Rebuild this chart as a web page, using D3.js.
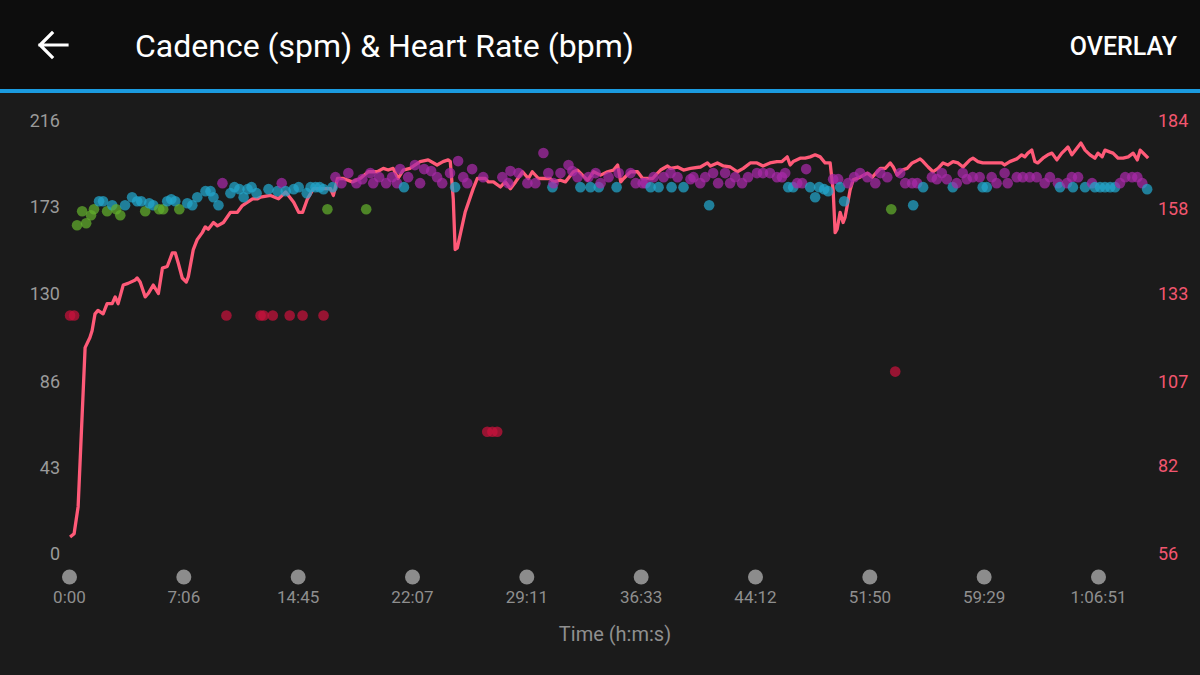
<!DOCTYPE html>
<html>
<head>
<meta charset="utf-8">
<script src="https://cdn.jsdelivr.net/npm/d3@7"></script>
<style>
  body { margin: 0; background: #1b1b1b; font-family: Roboto, "Noto Sans", sans-serif; }
</style>
</head>
<body>
<div id="chart"></div>
<script>
// elapsed seconds where the x-axis ticks sit, and their labels
let tickSeconds = [0, 426, 885, 1327, 1751, 2193, 2652, 3110, 3569, 4011];
let tickLabels = ["0:00", "7:06", "14:45", "22:07", "29:11", "36:33", "44:12", "51:50", "59:29", "1:06:51"];

let cadTicks = [0, 43, 86, 130, 173, 216];
let hrTicks = [56, 82, 107, 133, 158, 184];

// heart rate: [seconds, bpm]
let heartRate = [[4,61],[19,62],[34,70],[60,117],[78,120],[86,122],[97,127],[108,128],[127,127],[142,130],
  [161,130],[172,132],[183,130],[202,135.5],[220,136],[247,137],[254,137.6],[265,136.4],[284,132],[295,133],
  [314,135.5],[333,133],[348,140.5],[366,141],[385,145],[396,145],[407,142],[422,137.6],[438,136.4],[446,138],
  [466,146],[482,149],[502,151],[514,152.7],[526,152],[547,154],[563,153],[587,154],[615,157],[643,157],
  [663,159],[684,160],[704,161],[724,161],[736,161.5],[776,162],[808,161],[837,163],[869,160],[889,157],
  [904,157],[923,161],[946,164],[973,164],[992,164],[1012,164],[1023,162],[1039,167],[1062,167],[1096,166],
  [1127,167],[1158,169],[1193,169],[1216,170],[1235,169.5],[1254,170],[1273,167],[1293,169.5],[1319,170],[1357,172],
  [1387,172.5],[1420,171],[1442,172],[1461,172.5],[1469,172],[1480,161],[1487,146],[1495,146.5],[1524,157],[1554,164],
  [1569,167],[1588,167],[1599,167],[1610,166],[1629,166],[1655,164.5],[1673,166],[1692,164],[1711,166],[1737,169],
  [1759,167],[1774,169],[1798,167],[1825,167],[1844,167],[1856,166],[1883,166.5],[1902,166],[1933,169],[1949,169.5],
  [1968,168],[1988,166.5],[2011,169],[2038,168],[2065,169],[2088,169.5],[2104,171],[2116,166],[2127,167],[2154,169],
  [2181,169],[2201,167],[2221,167],[2241,167],[2253,168],[2273,169.5],[2301,170.7],[2313,170],[2341,170.4],[2365,169.5],
  [2393,170],[2433,170.4],[2461,171.6],[2473,170.7],[2501,171.6],[2525,170.7],[2553,170.4],[2581,169],[2605,170],[2633,171.6],
  [2660,171.6],[2684,170.7],[2712,171.6],[2740,172],[2760,172],[2781,173.4],[2793,171],[2805,172],[2833,173],[2853,173],
  [2873,173.4],[2893,174],[2913,173.4],[2933,171.6],[2953,171.6],[2965,163.6],[2973,151],[2981,152],[2993,157],[3005,154],
  [3013,155.6],[3033,163.6],[3045,166.6],[3073,167.4],[3102,168.6],[3122,167.4],[3142,169],[3154,170],[3174,170],[3194,171.6],
  [3206,170.4],[3222,168],[3242,169.5],[3262,170],[3282,171.6],[3294,172],[3314,172.8],[3326,172],[3346,170.4],[3366,169],
  [3386,170],[3406,171.6],[3426,171],[3446,172],[3466,171.6],[3486,170.4],[3514,172.5],[3526,173],[3546,172],[3565,171.6],
  [3592,171.6],[3619,171.6],[3639,171.6],[3650,171],[3670,172],[3697,172.8],[3716,174],[3728,173.4],[3740,174.5],[3755,175.4],
  [3767,172],[3778,171.6],[3798,173],[3817,174],[3833,174.5],[3852,172.5],[3871,174.5],[3883,175.4],[3895,176.3],[3910,174],
  [3930,176],[3945,177.5],[3961,175.4],[3980,174],[3999,173],[4011,174.5],[4027,173.4],[4038,175.4],[4058,174.8],[4069,174.5],
  [4089,173],[4108,173],[4128,173.4],[4147,174.5],[4163,172.5],[4174,175.4],[4186,174.5],[4205,173]];

// cadence: [seconds, spm]
let cadence = [[4,119],[19,119],[30,164],[49,171],[64,165],[82,169],[93,172],[112,176],[127,176],[142,171],
  [161,174],[176,172],[191,169],[209,174],[235,178],[254,176],[269,176],[284,171],[299,175],[314,174],
  [336,172],[351,172],[366,176],[381,177],[396,176],[411,172],[442,175],[462,174],[482,178],[515,181],
  [535,181],[547,178],[567,174],[583,185],[599,119],[615,180],[631,183],[651,182],[668,178],[684,182],
  [700,183],[720,180],[736,119],[748,119],[768,182],[785,119],[804,181],[821,185],[837,181],[853,119],
  [869,182],[889,183],[904,119],[920,180],[935,183],[954,183],[970,183],[985,119],[985,182],[1000,172],
  [1020,183],[1031,188],[1054,185],[1081,190],[1112,185],[1135,187],[1150,172],[1166,190],[1177,185],[1200,188],
  [1227,185],[1250,188],[1269,185],[1281,192],[1296,183],[1312,188],[1338,194],[1357,185],[1372,192],[1398,191],
  [1420,188],[1439,185],[1468,190],[1487,183],[1498,196],[1517,188],[1532,185],[1550,192],[1591,188],[1606,61],
  [1625,61],[1643,61],[1662,188],[1684,185],[1692,191],[1722,190],[1755,185],[1786,185],[1817,200],[1836,190],
  [1852,183],[1856,185],[1883,190],[1914,194],[1929,191],[1949,188],[1960,183],[1991,188],[1999,183],[2019,190],
  [2031,183],[2038,185],[2069,188],[2100,183],[2108,190],[2154,190],[2174,185],[2201,185],[2213,185],[2233,183],
  [2245,188],[2265,183],[2285,188],[2313,190],[2317,183],[2341,188],[2365,183],[2393,187],[2405,188],[2432,185],
  [2452,188],[2468,174],[2484,190],[2504,185],[2532,190],[2552,185],[2572,188],[2600,185],[2624,188],[2660,190],
  [2684,190],[2712,190],[2740,188],[2760,188],[2773,190],[2785,183],[2805,183],[2821,185],[2841,185],[2857,192],
  [2873,183],[2893,178],[2909,183],[2929,182],[2945,181],[2965,187],[2985,187],[2993,183],[3009,176],[3025,185],
  [3049,188],[3073,190],[3102,188],[3134,185],[3154,190],[3182,188],[3198,172],[3214,91],[3234,190],[3254,185],
  [3282,185],[3286,174],[3302,185],[3326,183],[3361,188],[3381,187],[3401,190],[3421,187],[3445,183],[3461,185],
  [3485,190],[3501,187],[3525,188],[3553,188],[3565,183],[3581,183],[3600,188],[3619,185],[3650,190],[3662,185],
  [3697,188],[3720,188],[3747,188],[3774,188],[3805,185],[3825,188],[3856,185],[3864,183],[3891,185],[3910,188],
  [3914,183],[3934,188],[3961,183],[3988,185],[3999,183],[4019,183],[4038,183],[4058,183],[4077,183],[4096,185],
  [4116,188],[4143,188],[4163,188],[4182,185],[4201,182]];

// cadence zone limits and their colours
let zoneLimits = [153, 164, 174, 184];
let zoneColors = ["#c8123c", "#e0861e", "#62ae2c", "#22a6cc", "#a82aa8"];

let svgWidth = 1200;
let svgHeight = 675;

let plot = { left: 69, right: 1098, top: 121, bottom: 554 };

let svg = d3.select("#chart")
  .append("svg")
  .attr("width", svgWidth)
  .attr("height", svgHeight);

// background + app bar
svg.append("rect").attr("width", svgWidth).attr("height", svgHeight).attr("fill", "#1b1b1b");
svg.append("rect").attr("width", svgWidth).attr("height", 89).attr("fill", "#0d0d0d");
svg.append("rect").attr("y", 89).attr("width", svgWidth).attr("height", 4).attr("fill", "#1b9be0");

svg.append("path")
  .attr("d", "M40,45 L67,45 M52,33 L40,45 L52,57")
  .attr("fill", "none")
  .attr("stroke", "#fff")
  .attr("stroke-width", 3.2)
  .attr("stroke-linecap", "square");

svg.append("text")
  .attr("x", 135).attr("y", 46)
  .attr("dominant-baseline", "central")
  .attr("fill", "#fff")
  .style("font-size", "32px")
  .text("Cadence (spm) & Heart Rate (bpm)");

svg.append("text")
  .attr("x", 1177).attr("y", 46)
  .attr("dominant-baseline", "central")
  .attr("text-anchor", "end")
  .attr("fill", "#fff")
  .style("font-size", "25px")
  .style("font-weight", 500)
  .text("OVERLAY");

// scales
let tickStep = (plot.right - plot.left) / (tickSeconds.length - 1);
let xScale = d3.scaleLinear()
  .domain(tickSeconds)
  .range(tickSeconds.map((d, i) => plot.left + i * tickStep));

let cadScale = d3.scaleLinear().domain([0, 216]).range([plot.bottom, plot.top]);
let hrScale = d3.scaleLinear().domain([56, 184]).range([plot.bottom, plot.top]);
let zoneColor = d3.scaleThreshold().domain(zoneLimits).range(zoneColors);

// left axis (cadence)
let leftAxis = svg.append("g")
  .attr("transform", "translate(60,0)")
  .call(d3.axisLeft(cadScale).tickValues(cadTicks).tickSize(0).tickPadding(0));
leftAxis.select(".domain").remove();
leftAxis.selectAll("text")
  .attr("fill", "#9a9a9a")
  .style("font-size", "18px")
  .style("font-family", "Roboto");

// right axis (heart rate)
let rightAxis = svg.append("g")
  .attr("transform", "translate(1158,0)")
  .call(d3.axisRight(hrScale).tickValues(hrTicks).tickSize(0).tickPadding(0));
rightAxis.select(".domain").remove();
rightAxis.selectAll("text")
  .attr("fill", "#f2566f")
  .style("font-size", "18px")
  .style("font-family", "Roboto");

// bottom axis with round markers
let bottomAxis = svg.append("g")
  .attr("transform", "translate(0,577)")
  .call(d3.axisBottom(xScale).tickValues(tickSeconds)
    .tickFormat((d, i) => tickLabels[i]).tickSize(0).tickPadding(14));
bottomAxis.select(".domain").remove();
bottomAxis.selectAll(".tick").insert("circle", "text")
  .attr("r", 7.5)
  .attr("fill", "#8c8c8c");
bottomAxis.selectAll("text")
  .attr("fill", "#8f8f8f")
  .style("font-size", "17px")
  .style("font-family", "Roboto");

svg.append("text")
  .attr("x", 615).attr("y", 634)
  .attr("dominant-baseline", "central")
  .attr("text-anchor", "middle")
  .attr("fill", "#8f8f8f")
  .style("font-size", "20px")
  .text("Time (h:m:s)");

// heart rate line
let hrLine = d3.line()
  .x(d => xScale(d[0]))
  .y(d => hrScale(d[1]));

svg.append("path")
  .datum(heartRate)
  .attr("d", hrLine)
  .attr("fill", "none")
  .attr("stroke", "#ff5a78")
  .attr("stroke-width", 3.3)
  .attr("stroke-linejoin", "round");

// cadence dots
svg.append("g")
  .selectAll("circle")
  .data(cadence)
  .enter()
  .append("circle")
  .attr("cx", d => xScale(d[0]))
  .attr("cy", d => cadScale(d[1]))
  .attr("r", 5.3)
  .attr("fill", d => zoneColor(d[1]))
  .attr("opacity", 0.72);
</script>
</body>
</html>
